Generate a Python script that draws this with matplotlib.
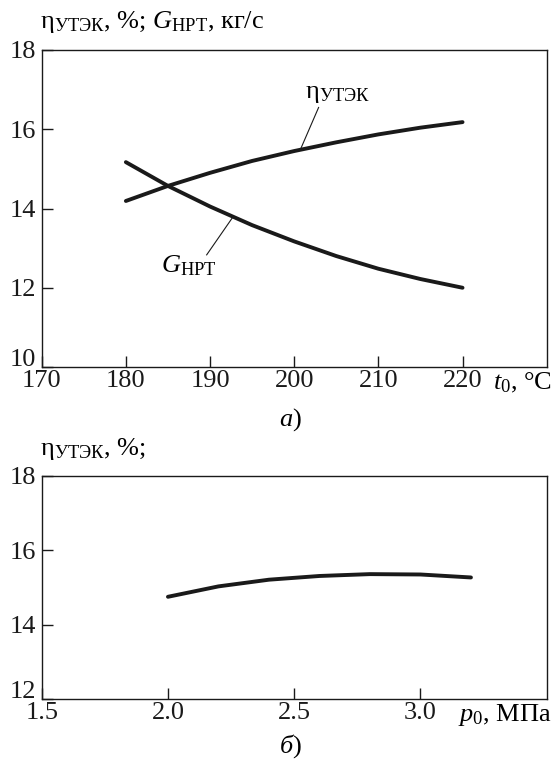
import matplotlib
matplotlib.use("Agg")
import matplotlib.pyplot as plt
from matplotlib.transforms import ScaledTranslation

plt.rcParams['font.family'] = ['Liberation Serif', 'DejaVu Serif']
plt.rcParams['mathtext.fontset'] = 'custom'
plt.rcParams['mathtext.rm'] = 'Liberation Serif'
plt.rcParams['mathtext.it'] = 'Liberation Serif:italic'
plt.rcParams['mathtext.bf'] = 'Liberation Serif:bold'

# top panel: a) vs t0
t0 = [180, 185, 190, 195, 200, 205, 210, 215, 220]
eta_t = [14.19, 14.57, 14.9, 15.2, 15.45, 15.67, 15.87, 16.04, 16.18]
g_hpt = [15.17, 14.57, 14.05, 13.58, 13.17, 12.8, 12.48, 12.22, 12.0]

# bottom panel: b) vs p0
p0 = [2.0, 2.2, 2.4, 2.6, 2.8, 3.0, 3.2]
eta_p = [14.75, 15.03, 15.21, 15.31, 15.36, 15.35, 15.27]

fs = 19
lw = 2.8
W, H = 553, 760
ETA = r'η$_{\mathrm{УТЭК}}$'

fig = plt.figure(figsize=(5.53, 7.60), dpi=100)

def px_axes(l, t, r, b):
    return fig.add_axes([l / W, 1 - b / H, (r - l) / W, (b - t) / H])

def style(ax):
    for s in ax.spines.values():
        s.set_linewidth(1.0)
        s.set_color('#1a1a1a')
    ax.tick_params(direction='in', length=8, width=1.0, labelsize=fs,
                   top=False, right=False, colors='#1a1a1a')
    ax.tick_params(axis='x', pad=2)
    ax.tick_params(axis='y', pad=4)
    # lift the lowest y label so it clears the first x label
    lab = ax.yaxis.get_major_ticks()[0].label1
    lab.set_transform(lab.get_transform() + ScaledTranslation(0, 9 / 100, fig.dpi_scale_trans))

# ---- a)
ax1 = px_axes(41.7, 50, 546.7, 367)
ax1.plot(t0, eta_t, color='#1a1a1a', lw=lw, solid_capstyle='round')
ax1.plot(t0, g_hpt, color='#1a1a1a', lw=lw, solid_capstyle='round')
ax1.set_xlim(170, 230)
ax1.set_ylim(10, 18)
ax1.set_xticks([170, 180, 190, 200, 210, 220])
ax1.set_yticks([10, 12, 14, 16, 18])
style(ax1)

# leader lines + labels
ax1.plot([200.7, 202.9], [15.47, 16.55], color='#1a1a1a', lw=0.8)
ax1.text(201.3, 16.8, ETA, fontsize=fs, ha='left', va='baseline')
ax1.plot([192.7, 189.6], [13.78, 12.83], color='#1a1a1a', lw=0.8)
ax1.text(184.2, 12.39, r'$G_{\mathrm{НРТ}}$', fontsize=fs, ha='left', va='baseline')

fig.text(40 / W, 1 - 28 / H, ETA + r', %; $G_{\mathrm{НРТ}}$, кг/с',
         fontsize=fs, ha='left', va='baseline')
fig.text(552 / W, 1 - 389 / H, r'$t_0$, °C', fontsize=fs, ha='right', va='baseline')
fig.text(290 / W, 1 - 426 / H, r'$a$)', fontsize=fs, ha='center', va='baseline')

# ---- b)
ax2 = px_axes(41.7, 476, 546.7, 699)
ax2.plot(p0, eta_p, color='#1a1a1a', lw=lw, solid_capstyle='round')
ax2.set_xlim(1.5, 3.5)
ax2.set_ylim(12, 18)
ax2.set_xticks([1.5, 2.0, 2.5, 3.0])
ax2.set_xticklabels(['1.5', '2.0', '2.5', '3.0'])
ax2.set_yticks([12, 14, 16, 18])
style(ax2)

fig.text(40 / W, 1 - 455 / H, ETA + ', %;', fontsize=fs,
         ha='left', va='baseline')
fig.text(552 / W, 1 - 721 / H, r'$p_0$, МПа', fontsize=fs, ha='right', va='baseline')
fig.text(290 / W, 1 - 753 / H, r'$б$)', fontsize=fs, ha='center', va='baseline')

fig.savefig('out.png', dpi=100)
